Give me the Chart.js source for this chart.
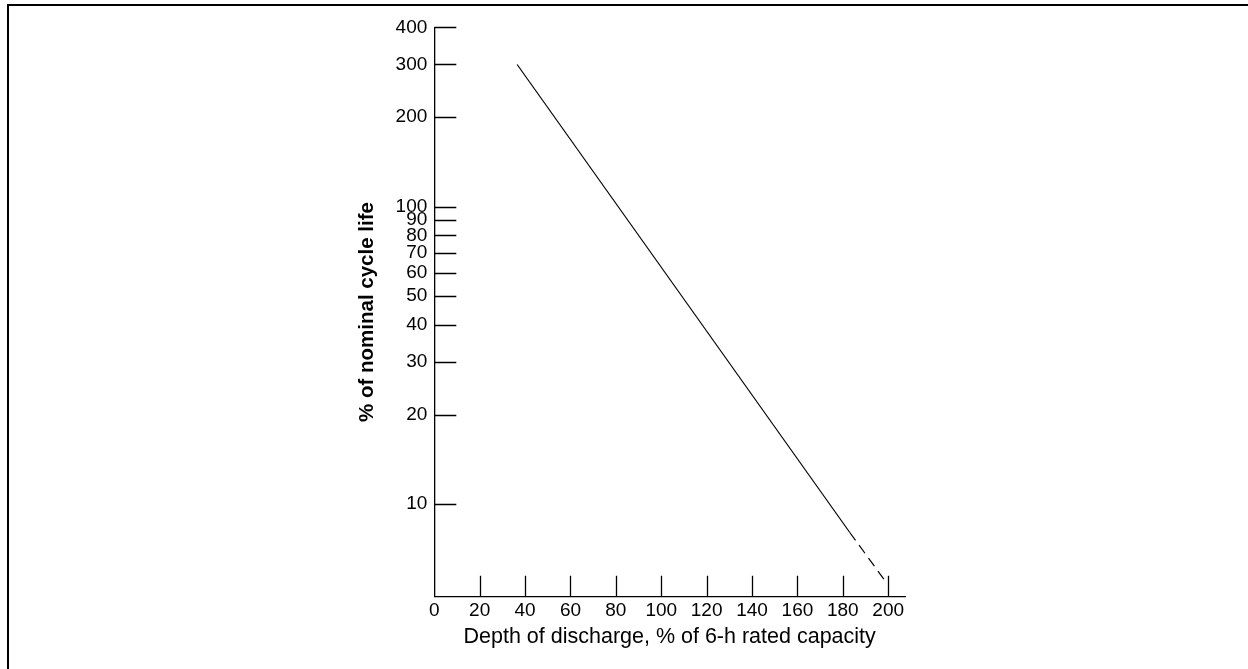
<!DOCTYPE html>
<html>
<head>
<meta charset="utf-8">
<script src="https://cdn.jsdelivr.net/npm/chart.js@4.4.1/dist/chart.umd.min.js"></script>
<style>
html,body{margin:0;padding:0;background:#fff;overflow:hidden;}
#wrap{position:relative;width:1248px;height:669px;}
#frame{position:absolute;left:7px;top:4px;right:0;bottom:0;border-top:2px solid #000;border-left:2px solid #000;pointer-events:none;}
canvas{position:absolute;left:0;top:0;}
</style>
</head>
<body>
<div id="wrap"><canvas id="c" width="1248" height="669"></canvas><div id="frame"></div></div>
<script>
// ---- data ----
const xTickValues = [0, 20, 40, 60, 80, 100, 120, 140, 160, 180, 200];
const yTickValues = [10, 20, 30, 40, 50, 60, 70, 80, 90, 100, 200, 300, 400];
const solidDepth = [36.5, 183];
const solidLife = [300, 8.05];
const dashedDepth = [183, 199.6];
const dashedLife = [8.05, 5.4];
const xTitle = 'Depth of discharge, % of 6-h rated capacity';
const yTitle = '% of nominal cycle life';

const FONT = '"Liberation Sans", Arial, Helvetica, sans-serif';

const innerTicks = {
  id: 'innerTicks',
  afterDatasetsDraw(chart) {
    const {ctx, chartArea: a, scales: {x, y}} = chart;
    ctx.save();
    ctx.strokeStyle = '#000';
    ctx.lineWidth = 1.3;
    ctx.beginPath();
    yTickValues.forEach(v => {
      const p = Math.round(y.getPixelForValue(v)) + 0.5;
      ctx.moveTo(a.left, p); ctx.lineTo(a.left + 22, p);
    });
    xTickValues.filter(v => v > 0).forEach(v => {
      const p = Math.round(x.getPixelForValue(v)) + 0.5;
      ctx.moveTo(p, a.bottom); ctx.lineTo(p, a.bottom - 21);
    });
    ctx.stroke();
    ctx.restore();
  }
};

const toPts = (xs, ys) => xs.map((v, i) => ({x: v, y: ys[i]}));

new Chart(document.getElementById('c'), {
  type: 'scatter',
  data: {
    datasets: [
      {data: toPts(solidDepth, solidLife), showLine: true, borderColor: '#000', borderWidth: 1.2, pointRadius: 0, fill: false},
      {data: toPts(dashedDepth, dashedLife), showLine: true, borderColor: '#000', borderWidth: 1.2, borderDash: [10, 6], pointRadius: 0, fill: false}
    ]
  },
  options: {
    responsive: false,
    animation: false,
    events: [],
    layout: {padding: {left: 0, right: 343, top: 27.3, bottom: 0}},
    plugins: {legend: {display: false}, tooltip: {enabled: false}},
    scales: {
      x: {
        type: 'linear', min: 0, max: 207.4,
        afterBuildTicks: s => { s.ticks = xTickValues.map(v => ({value: v})); },
        afterFit: s => { s.height = 72.3; },
        grid: {display: false, drawTicks: false},
        border: {display: true, color: '#000', width: 1.3},
        ticks: {autoSkip: false, maxRotation: 0, padding: 3, color: '#000', font: {family: FONT, size: 19}, callback: v => String(v)},
        title: {display: true, text: xTitle, color: '#000', font: {family: FONT, size: 21.5}, padding: {top: 0, bottom: 19}}
      },
      y: {
        type: 'logarithmic', min: 4.89, max: 400,
        afterBuildTicks: s => { s.ticks = yTickValues.map(v => ({value: v})); },
        afterFit: s => { s.width = 434.3; },
        grid: {display: false, drawTicks: false},
        border: {display: true, color: '#000', width: 1.3},
        ticks: {autoSkip: false, padding: 7, color: '#000', font: {family: FONT, size: 19}, callback: v => String(v)},
        title: {display: true, text: yTitle, color: '#000', font: {family: FONT, size: 20.5, weight: 'bold'}, padding: {top: 355.2, bottom: 0}}
      }
    }
  },
  plugins: [innerTicks]
});
</script>
</body>
</html>
